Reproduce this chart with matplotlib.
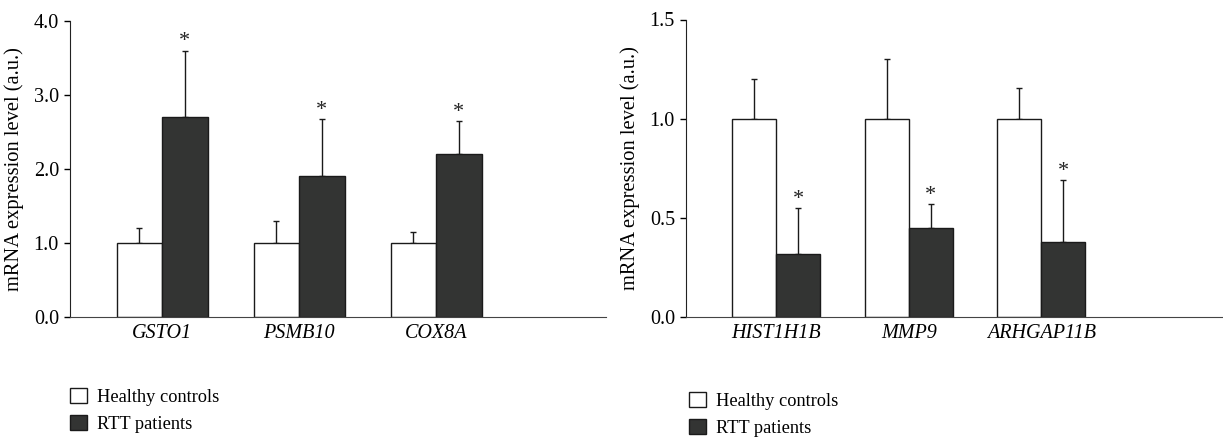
import matplotlib.pyplot as plt
from matplotlib.patches import Patch

plt.rcParams['font.family'] = ['Liberation Serif', 'DejaVu Serif']

genes_up = ['GSTO1', 'PSMB10', 'COX8A']
ctrl_up = [1.0, 1.0, 1.0]
ctrl_up_err = [0.2, 0.3, 0.15]
rtt_up = [2.7, 1.9, 2.2]
rtt_up_err = [0.9, 0.77, 0.45]

genes_down = ['HIST1H1B', 'MMP9', 'ARHGAP11B']
ctrl_down = [1.0, 1.0, 1.0]
ctrl_down_err = [0.2, 0.3, 0.155]
rtt_down = [0.32, 0.45, 0.38]
rtt_down_err = [0.23, 0.12, 0.31]

dark = '#333433'
edge = '#1a1a1a'
W, H = 1223, 437
fig = plt.figure(figsize=(W / 100, H / 100), dpi=100)


def panel(rect, genes, c, ce, r, re, ymax, ticks, xlim):
    ax = fig.add_axes(rect)
    x = list(range(len(genes)))
    bw = 0.332
    xc = [i - bw / 2 for i in x]
    xr = [i + bw / 2 for i in x]
    ax.bar(xc, c, bw, color='white', edgecolor=edge, linewidth=1.0, zorder=2)
    ax.bar(xr, r, bw, color=dark, edgecolor=edge, linewidth=1.0, zorder=2)
    ax.errorbar(xc, c, yerr=[[0] * len(c), ce], fmt='none', ecolor=edge,
                elinewidth=1.0, capsize=2.5, capthick=1.0, zorder=1)
    ax.errorbar(xr, r, yerr=[[0] * len(r), re], fmt='none', ecolor=edge,
                elinewidth=1.0, capsize=2.5, capthick=1.0, zorder=1)
    for xi, v, e in zip(xr, r, re):
        ax.annotate('*', (xi, v + e), xytext=(0, -0.5), textcoords='offset points',
                    ha='center', va='bottom', fontsize=16, color='#222222')
    ax.set_xlim(*xlim)
    ax.set_ylim(0, ymax)
    ax.set_yticks(ticks)
    ax.set_yticklabels(['%.1f' % t for t in ticks], fontsize=14.5)
    ax.set_xticks(x)
    ax.set_xticklabels(genes, fontsize=14.5, style='italic')
    ax.tick_params(axis='x', length=0, pad=5)
    ax.tick_params(axis='y', length=4, width=1, direction='out', pad=4)
    ax.spines['top'].set_visible(False)
    ax.spines['right'].set_visible(False)
    ax.spines['left'].set_color('#222222')
    ax.spines['bottom'].set_color('#444444')
    ax.set_ylabel('mRNA expression level (a.u.)', fontsize=14.8, labelpad=7)
    return ax


panel([70 / W, 1 - 317 / H, 536 / W, 296 / H], genes_up, ctrl_up, ctrl_up_err,
      rtt_up, rtt_up_err, 4.0, [0.0, 1.0, 2.0, 3.0, 4.0], (-0.672, 3.24))
panel([686 / W, 1 - 317 / H, 537 / W, 297.5 / H], genes_down, ctrl_down, ctrl_down_err,
      rtt_down, rtt_down_err, 1.5, [0.0, 0.5, 1.0, 1.5], (-0.679, 3.37))

handles = [Patch(facecolor='white', edgecolor=edge, linewidth=1.0),
           Patch(facecolor=dark, edgecolor=edge, linewidth=1.0)]
labels = ['Healthy controls', 'RTT patients']
for lx, ly in [(70, 388), (689, 392)]:
    fig.legend(handles, labels, loc='upper left', bbox_to_anchor=(lx / W, 1 - ly / H),
               frameon=False, fontsize=13.2, handlelength=0.9, handleheight=0.9,
               handletextpad=0.55, labelspacing=0.5, borderpad=0, borderaxespad=0)

fig.savefig('out.png', dpi=100)
